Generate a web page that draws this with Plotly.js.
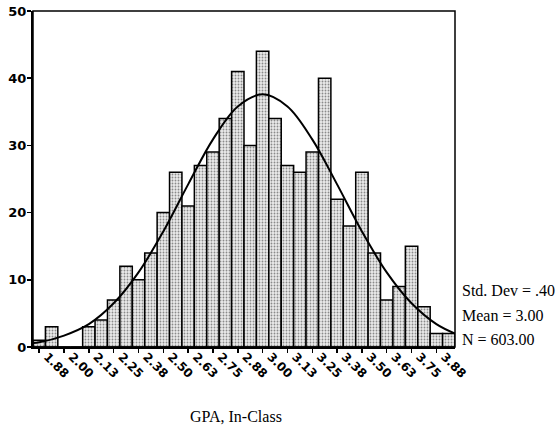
<!DOCTYPE html>
<html>
<head>
<meta charset="utf-8">
<script src="https://cdn.plot.ly/plotly-3.0.1.min.js"></script>
<style>html,body{margin:0;padding:0;background:#fff;}#chart{width:557px;height:429px;}</style>
</head>
<body>
<div id="chart"></div>
<script>
// Bin centers (GPA, bin width 0.0625)
const binCenters = [1.875,1.9375,2.0,2.0625,2.125,2.1875,2.25,2.3125,2.375,2.4375,2.5,2.5625,2.625,2.6875,2.75,2.8125,2.875,2.9375,3.0,3.0625,3.125,3.1875,3.25,3.3125,3.375,3.4375,3.5,3.5625,3.625,3.6875,3.75,3.8125,3.875,3.9375];
// Frequencies
const counts = [1,3,0,0,3,4,7,12,10,14,20,26,21,27,29,34,41,30,44,34,27,26,29,40,22,18,26,14,7,9,15,6,2,2];
// Normal curve
const curveX = [1.84375,1.875,2.0,2.125,2.25,2.375,2.5,2.625,2.75,2.875,3.0,3.125,3.25,3.375,3.5,3.625,3.75,3.875,3.96875];
const curveY = [0.6,0.7,1.7,3.4,6.5,11.1,17.2,24.2,30.9,35.8,37.6,35.8,30.9,24.2,17.2,11.1,6.5,3.4,2.0];
// Axis tick labels
const xTickVals = [1.875,2.0,2.125,2.25,2.375,2.5,2.625,2.75,2.875,3.0,3.125,3.25,3.375,3.5,3.625,3.75,3.875];
const xTickText = ["1.88","2.00","2.13","2.25","2.38","2.50","2.63","2.75","2.88","3.00","3.13","3.25","3.38","3.50","3.63","3.75","3.88"];
const yTickVals = [0,10,20,30,40,50];
const statsLines = ["Std. Dev = .40","Mean = 3.00","N = 603.00"];
const xTitle = "GPA, In-Class";

const xTickFont = {family: "DejaVu Sans", size: 12, color: "#000", weight: "bold"};
const yTickFont = {family: "DejaVu Sans", size: 13, color: "#000", weight: "bold"};
const serif = {family: "Liberation Serif, Times New Roman, serif", size: 16, color: "#000"};

const traces = [
  {
    type: "bar",
    x: binCenters,
    y: counts,
    width: 0.0625,
    marker: {
      color: "#d8d8d8",
      line: {color: "#000", width: 1.5},
      pattern: {shape: ".", fgcolor: "#8a8a8a", bgcolor: "#ebebeb", size: 3, solidity: 0.3}
    },
    hoverinfo: "skip",
    showlegend: false
  },
  {
    type: "scatter",
    mode: "lines",
    x: curveX,
    y: curveY,
    line: {color: "#000", width: 2, shape: "spline", smoothing: 1},
    hoverinfo: "skip",
    showlegend: false
  }
];

const annotations = statsLines.map((t, i) => ({
  text: t, xref: "paper", yref: "paper",
  x: 1.012, y: [0.168, 0.094, 0.022][i],
  xanchor: "left", yanchor: "middle", showarrow: false, font: serif
}));
annotations.push({
  text: xTitle, xref: "paper", yref: "paper",
  x: (236 - 33) / 422, y: -0.208, xanchor: "center", yanchor: "middle",
  showarrow: false, font: serif
});

const layout = {
  width: 557, height: 429,
  margin: {l: 33, r: 102, t: 11, b: 82, pad: 0},
  paper_bgcolor: "#fff", plot_bgcolor: "#fff",
  bargap: 0,
  xaxis: {
    range: [1.84375, 3.96875],
    tickmode: "array", tickvals: xTickVals, ticktext: xTickText,
    tickangle: 45, ticks: "outside", ticklen: 4, tickwidth: 1.5, tickcolor: "#000",
    ticklabelshift: 8, ticklabelstandoff: -8,
    showline: true, linecolor: "#000", linewidth: 2,
    showgrid: false, zeroline: false, tickfont: xTickFont, fixedrange: true
  },
  yaxis: {
    range: [0, 50],
    tickmode: "array", tickvals: yTickVals,
    ticks: "outside", ticklen: 4, tickwidth: 1.5, tickcolor: "#000",
    ticklabelstandoff: -2,
    showline: true, linecolor: "#000", linewidth: 2,
    showgrid: false, zeroline: false, tickfont: yTickFont, fixedrange: true
  },
  shapes: [{
    type: "rect", xref: "paper", yref: "paper", x0: 0, x1: 1, y0: 0, y1: 1,
    line: {color: "#000", width: 1.5}, layer: "above"
  }],
  annotations: annotations
};

Plotly.newPlot("chart", traces, layout, {staticPlot: true, displayModeBar: false});
</script>
</body>
</html>
